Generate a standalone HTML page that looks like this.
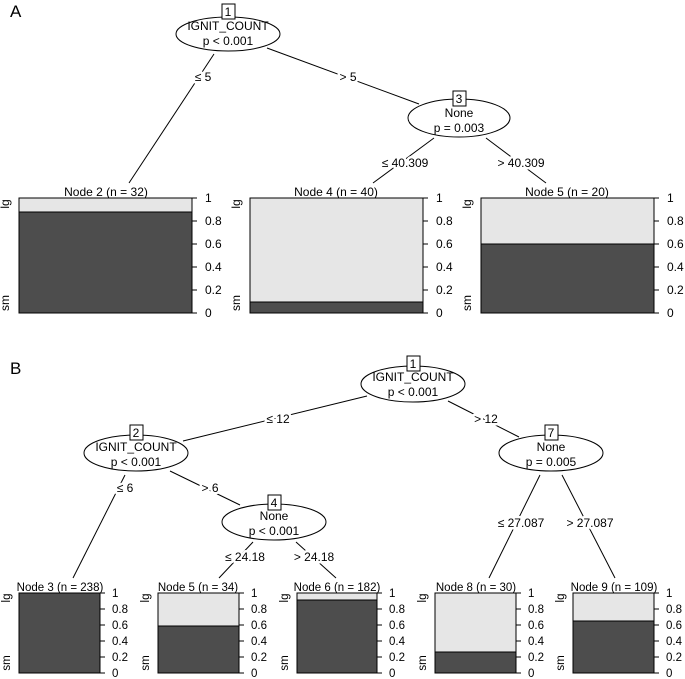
<!DOCTYPE html>
<html><head><meta charset="utf-8"><style>
html,body{margin:0;padding:0;background:#fff;overflow:hidden}
svg{display:block;font-family:"Liberation Sans",sans-serif}
.h{stroke:#fff;stroke-width:5;paint-order:stroke;stroke-linejoin:round}
</style></head><body>
<svg width="685" height="679" viewBox="0 0 685 679" xmlns="http://www.w3.org/2000/svg">
<g stroke="#000" stroke-width="1" fill="none">
<!-- A edges -->
<line x1="214" y1="54" x2="129" y2="183"/>
<line x1="267" y1="48" x2="419" y2="104"/>
<line x1="434" y1="138" x2="373" y2="183"/>
<line x1="486" y1="138" x2="546" y2="183"/>
<!-- B edges -->
<line x1="367" y1="396" x2="183" y2="441"/>
<line x1="448" y1="401" x2="519" y2="437"/>
<line x1="125" y1="475" x2="73" y2="578"/>
<line x1="170" y1="471" x2="240" y2="505"/>
<line x1="253" y1="542" x2="219" y2="578"/>
<line x1="296" y1="542" x2="336" y2="578"/>
<line x1="540" y1="475" x2="489" y2="578"/>
<line x1="562" y1="475" x2="615" y2="578"/>
</g>
<g fill="#fff" stroke="#000">
<ellipse cx="228" cy="34" rx="52" ry="17"/>
<ellipse cx="459" cy="118" rx="51" ry="19"/>
<ellipse cx="413" cy="384" rx="52" ry="18"/>
<ellipse cx="136" cy="453" rx="52" ry="18"/>
<ellipse cx="274" cy="522" rx="52" ry="18"/>
<ellipse cx="551" cy="453" rx="52" ry="18"/>
<rect x="222" y="4" width="13" height="15"/>
<rect x="453" y="91" width="13" height="15"/>
<rect x="407" y="356" width="13" height="15"/>
<rect x="130" y="425" width="13" height="15"/>
<rect x="268" y="495" width="13" height="15"/>
<rect x="545" y="425" width="13" height="15"/>
</g>
<g font-size="12" text-anchor="middle" fill="#000">
<text x="228" y="16">1</text><text x="459" y="103">3</text>
<text x="413" y="368">1</text><text x="136" y="437">2</text>
<text x="274" y="507">4</text><text x="551" y="437">7</text>
<text x="228" y="30">IGNIT_COUNT</text><text x="228" y="45">p &lt; 0.001</text>
<text x="459" y="117">None</text><text x="459" y="132">p = 0.003</text>
<text x="413" y="381">IGNIT_COUNT</text><text x="413" y="396">p &lt; 0.001</text>
<text x="136" y="451">IGNIT_COUNT</text><text x="136" y="466">p &lt; 0.001</text>
<text x="274" y="520">None</text><text x="274" y="535">p &lt; 0.001</text>
<text x="551" y="451">None</text><text x="551" y="466">p = 0.005</text>
<g class="h">
<text x="203" y="81">≤ 5</text><text x="348" y="81">&gt; 5</text>
<text x="405" y="167">≤ 40.309</text><text x="521" y="167">&gt; 40.309</text>
<text x="278" y="423">≤ 12</text><text x="486" y="423">&gt; 12</text>
<text x="125" y="492">≤ 6</text><text x="210" y="492">&gt; 6</text>
<text x="245" y="561">≤ 24.18</text><text x="314" y="561">&gt; 24.18</text>
<text x="521" y="527">≤ 27.087</text><text x="590" y="527">&gt; 27.087</text>
</g>
</g>
<g font-size="17" fill="#000"><text x="10" y="17">A</text><text x="10" y="374">B</text></g>
<!-- A bars -->
<g font-size="12" fill="#000" text-anchor="middle">
<text x="106" y="196">Node 2 (n = 32)</text>
<text x="336" y="196">Node 4 (n = 40)</text>
<text x="567" y="196">Node 5 (n = 20)</text>
</g>
<g stroke="#000">
<rect x="19" y="198" width="173" height="115" fill="#e6e6e6"/><rect x="19" y="212" width="173" height="101" fill="#4d4d4d"/>
<rect x="250" y="198" width="173" height="115" fill="#e6e6e6"/><rect x="250" y="302" width="173" height="11" fill="#4d4d4d"/>
<rect x="481" y="198" width="173" height="115" fill="#e6e6e6"/><rect x="481" y="244" width="173" height="69" fill="#4d4d4d"/>
<path d="M192 198h5M192 221h5M192 244h5M192 267h5M192 290h5M192 313h5M423 198h5M423 221h5M423 244h5M423 267h5M423 290h5M423 313h5M654 198h5M654 221h5M654 244h5M654 267h5M654 290h5M654 313h5"/>
</g>
<g font-size="12" fill="#000">
<text x="205" y="202">1</text><text x="205" y="225">0.8</text><text x="205" y="248">0.6</text><text x="205" y="271">0.4</text><text x="205" y="294">0.2</text><text x="205" y="317">0</text>
<text x="436" y="202">1</text><text x="436" y="225">0.8</text><text x="436" y="248">0.6</text><text x="436" y="271">0.4</text><text x="436" y="294">0.2</text><text x="436" y="317">0</text>
<text x="667" y="202">1</text><text x="667" y="225">0.8</text><text x="667" y="248">0.6</text><text x="667" y="271">0.4</text><text x="667" y="294">0.2</text><text x="667" y="317">0</text>
<text transform="translate(9,204) rotate(-90)" text-anchor="middle">lg</text><text transform="translate(9,303) rotate(-90)" text-anchor="middle">sm</text>
<text transform="translate(240,204) rotate(-90)" text-anchor="middle">lg</text><text transform="translate(240,303) rotate(-90)" text-anchor="middle">sm</text>
<text transform="translate(471,204) rotate(-90)" text-anchor="middle">lg</text><text transform="translate(471,303) rotate(-90)" text-anchor="middle">sm</text>
</g>
<!-- B bars -->
<g font-size="11.5" fill="#000" text-anchor="middle">
<text x="60" y="591">Node 3 (n = 238)</text>
<text x="198" y="591">Node 5 (n = 34)</text>
<text x="337" y="591">Node 6 (n = 182)</text>
<text x="476" y="591">Node 8 (n = 30)</text>
<text x="614" y="591">Node 9 (n = 109)</text>
</g>
<g stroke="#000">
<rect x="19" y="593" width="81" height="80" fill="#4d4d4d"/>
<rect x="158" y="593" width="81" height="80" fill="#e6e6e6"/><rect x="158" y="626" width="81" height="47" fill="#4d4d4d"/>
<rect x="297" y="593" width="80" height="80" fill="#e6e6e6"/><rect x="297" y="600" width="80" height="73" fill="#4d4d4d"/>
<rect x="435" y="593" width="81" height="80" fill="#e6e6e6"/><rect x="435" y="652" width="81" height="21" fill="#4d4d4d"/>
<rect x="573" y="593" width="81" height="80" fill="#e6e6e6"/><rect x="573" y="621" width="81" height="52" fill="#4d4d4d"/>
<path d="M100 593h5M100 609h5M100 625h5M100 641h5M100 657h5M100 673h5M239 593h5M239 609h5M239 625h5M239 641h5M239 657h5M239 673h5M377 593h5M377 609h5M377 625h5M377 641h5M377 657h5M377 673h5M516 593h5M516 609h5M516 625h5M516 641h5M516 657h5M516 673h5M654 593h5M654 609h5M654 625h5M654 641h5M654 657h5M654 673h5"/>
</g>
<g font-size="11.5" fill="#000">
<text x="112" y="597">1</text><text x="112" y="613">0.8</text><text x="112" y="629">0.6</text><text x="112" y="645">0.4</text><text x="112" y="661">0.2</text><text x="112" y="677">0</text>
<text x="251" y="597">1</text><text x="251" y="613">0.8</text><text x="251" y="629">0.6</text><text x="251" y="645">0.4</text><text x="251" y="661">0.2</text><text x="251" y="677">0</text>
<text x="389" y="597">1</text><text x="389" y="613">0.8</text><text x="389" y="629">0.6</text><text x="389" y="645">0.4</text><text x="389" y="661">0.2</text><text x="389" y="677">0</text>
<text x="528" y="597">1</text><text x="528" y="613">0.8</text><text x="528" y="629">0.6</text><text x="528" y="645">0.4</text><text x="528" y="661">0.2</text><text x="528" y="677">0</text>
<text x="666" y="597">1</text><text x="666" y="613">0.8</text><text x="666" y="629">0.6</text><text x="666" y="645">0.4</text><text x="666" y="661">0.2</text><text x="666" y="677">0</text>
<text transform="translate(10,598) rotate(-90)" text-anchor="middle">lg</text><text transform="translate(10,663) rotate(-90)" text-anchor="middle">sm</text>
<text transform="translate(149,598) rotate(-90)" text-anchor="middle">lg</text><text transform="translate(149,663) rotate(-90)" text-anchor="middle">sm</text>
<text transform="translate(288,598) rotate(-90)" text-anchor="middle">lg</text><text transform="translate(288,663) rotate(-90)" text-anchor="middle">sm</text>
<text transform="translate(426,598) rotate(-90)" text-anchor="middle">lg</text><text transform="translate(426,663) rotate(-90)" text-anchor="middle">sm</text>
<text transform="translate(564,598) rotate(-90)" text-anchor="middle">lg</text><text transform="translate(564,663) rotate(-90)" text-anchor="middle">sm</text>
</g>
</svg>
</body></html>
